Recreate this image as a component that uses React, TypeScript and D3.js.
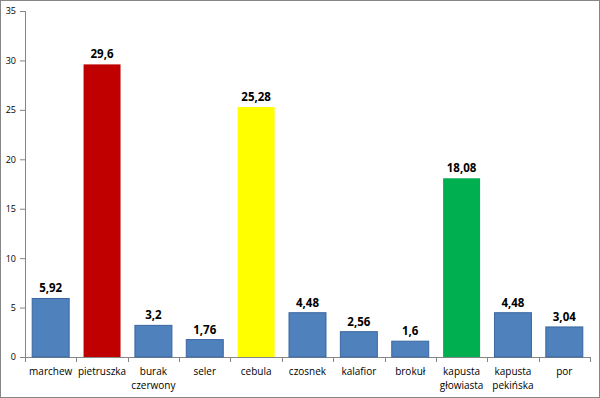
import { useEffect, useRef } from 'react'
import * as d3 from 'd3'

const categories = ['marchew', 'pietruszka', 'burak czerwony', 'seler', 'cebula', 'czosnek', 'kalafior', 'brokuł', 'kapusta głowiasta', 'kapusta pekińska', 'por']
const values = [5.92, 29.6, 3.2, 1.76, 25.28, 4.48, 2.56, 1.6, 18.08, 4.48, 3.04]
const barColors = ['#4F81BD', '#C00000', '#4F81BD', '#4F81BD', '#FFFF00', '#4F81BD', '#4F81BD', '#4F81BD', '#00B050', '#4F81BD', '#4F81BD']
const yTicks = [0, 5, 10, 15, 20, 25, 30, 35]

export default function App() {
  const svgRef = useRef<SVGSVGElement>(null)

  useEffect(() => {
    if (!svgRef.current) return
    const svg = d3.select(svgRef.current)
    svg.selectAll('*').remove()

    const W = 600
    const H = 398
    const margin = { top: 11, right: 10, bottom: 41, left: 25 }
    const width = W - margin.left - margin.right
    const height = H - margin.top - margin.bottom

    svg.append('rect')
      .attr('x', 0.5).attr('y', 0.5)
      .attr('width', W - 1).attr('height', H - 1)
      .attr('fill', '#fff')
      .attr('stroke', '#868686')

    const g = svg.append('g').attr('transform', `translate(${margin.left},${margin.top})`)

    const x = d3.scaleBand().domain(categories).range([0, width]).paddingInner(0.28).paddingOuter(0.14)
    const y = d3.scaleLinear().domain([0, 35]).range([height, 0])

    // y axis
    const yAxis = g.append('g')
      .call(d3.axisLeft(y).tickValues(yTicks).tickSize(5).tickPadding(4))
    yAxis.select('.domain').attr('stroke', '#868686').attr('d', `M0.5,0V${height}`)
    yAxis.selectAll('.tick line').attr('stroke', '#868686')
    yAxis.selectAll('text')
      .style('font-family', 'Open Sans, sans-serif')
      .style('font-size', '9px')
      .style('fill', '#000')

    // x axis line + ticks at boundaries
    const step = x.step()
    g.append('line')
      .attr('x1', 0).attr('x2', width)
      .attr('y1', height + 0.5).attr('y2', height + 0.5)
      .attr('stroke', '#868686')
    d3.range(categories.length + 1).forEach(i => {
      const xp = Math.round(i * step) + 0.5
      g.append('line')
        .attr('x1', xp).attr('x2', xp)
        .attr('y1', height).attr('y2', height + 5)
        .attr('stroke', '#868686')
    })

    // bars
    g.selectAll('rect.bar')
      .data(values)
      .join('rect')
      .attr('class', 'bar')
      .attr('x', (_d, i) => x(categories[i])!)
      .attr('y', d => y(d))
      .attr('width', x.bandwidth())
      .attr('height', d => height - y(d))
      .attr('fill', (_d, i) => barColors[i])
      .attr('stroke', (_d, i) => barColors[i] === '#4F81BD' ? '#3A67A0' : 'none')
      .attr('stroke-width', 1)

    // value labels
    g.selectAll('text.val')
      .data(values)
      .join('text')
      .attr('class', 'val')
      .attr('x', (_d, i) => x(categories[i])! + x.bandwidth() / 2)
      .attr('y', d => y(d) - 6)
      .attr('text-anchor', 'middle')
      .style('font-family', 'Open Sans, sans-serif')
      .style('font-size', '11.5px')
      .style('font-weight', 'bold')
      .text(d => String(d).replace('.', ','))

    // category labels
    categories.forEach(c => {
      const words = c.split(' ')
      const t = g.append('text')
        .attr('x', x(c)! + x.bandwidth() / 2)
        .attr('y', height + 18)
        .attr('text-anchor', 'middle')
        .style('font-family', 'Open Sans, sans-serif')
        .style('font-size', '10px')
        .style('fill', '#000')
      words.forEach((w, i) => {
        t.append('tspan')
          .attr('x', x(c)! + x.bandwidth() / 2)
          .attr('dy', i === 0 ? 0 : 14)
          .text(w)
      })
    })
  }, [])

  return (
    <div>
      <style>{'body{margin:0;overflow:hidden}'}</style>
      <svg ref={svgRef} width={600} height={398} style={{ display: 'block' }} />
    </div>
  )
}
